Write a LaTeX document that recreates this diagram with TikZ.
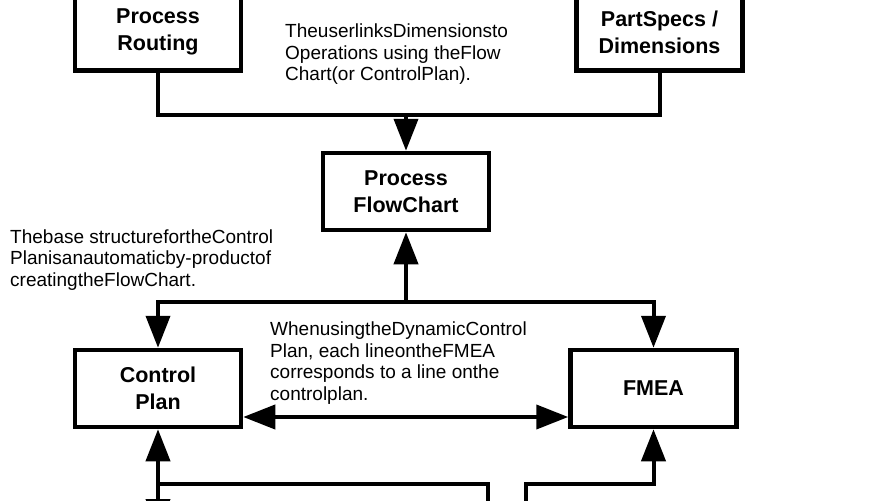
\documentclass[tikz,border=0pt]{standalone}
\usepackage{fontspec}
\setmainfont{Liberation Sans}
\usetikzlibrary{arrows.meta}
\begin{document}
\begin{tikzpicture}[x=1pt,y=-1pt,
  box/.style={draw=black,line width=4.5pt,minimum width=166pt,minimum height=77pt,inner sep=0pt,align=center,font=\fontsize{21.5}{27}\selectfont\bfseries},
  note/.style={anchor=base west,align=left,inner sep=0pt,font=\fontsize{19}{21.5}\selectfont},
  conn/.style={line width=4pt},
  arr/.style={conn,-{Triangle[length=32pt,width=24pt]}},
  darr/.style={conn,{Triangle[length=32pt,width=24pt]}-{Triangle[length=32pt,width=24pt]}}]
\useasboundingbox (0,0) rectangle (877,500);
\clip (0,0) rectangle (877,500);
\fill[white] (0,0) rectangle (877,500);

\node[box] (PR) at (158,32) {Process\\Routing};
\node[box] (PS) at (659.5,32) {PartSpecs /\\Dimensions};
\node[box] (PFC) at (406,191.5) {Process\\FlowChart};
\node[box] (CP) at (158,388.5) {Control\\Plan};
\node[box] (FM) at (653.5,388.5) {FMEA};

\node[note] (n1) at (285,81) {TheuserlinksDimensionsto\\Operations using theFlow\\Chart(or ControlPlan).};
\node[note] (n2) at (10,286) {Thebase structurefortheControl\\Planisanautomaticby-productof\\creatingtheFlowChart.};
\node[note] (n3) at (270,400) {WhenusingtheDynamicControl\\Plan, each lineontheFMEA\\corresponds to a line onthe\\controlplan.};

\coordinate (top) at (406,115);
\coordinate (mid) at (406,302);
\coordinate (j2) at (158,484);
\coordinate (j3) at (653.5,484);
\coordinate (b1) at (158,520);
\coordinate (b3) at (488,520);
\coordinate (b4) at (526,520);
\coordinate (b5) at (158,531);

\draw[conn] (PR.south) |- (top) -| (PS.south);
\draw[arr] (top) -- (PFC.north);
\draw[arr] (mid) -- (PFC.south);
\draw[arr] (mid) -| (CP.north);
\draw[arr] (mid) -| (FM.north);
\draw[darr] (CP.east |- 0,417) -- (FM.west |- 0,417);
\draw[arr] (b1) -- (CP.south);
\draw[conn] (j2) -| (b3);
\draw[arr] (b4) |- (j3) -- (FM.south);
\draw[arr] (j2) -- (b5);
\end{tikzpicture}
\end{document}
